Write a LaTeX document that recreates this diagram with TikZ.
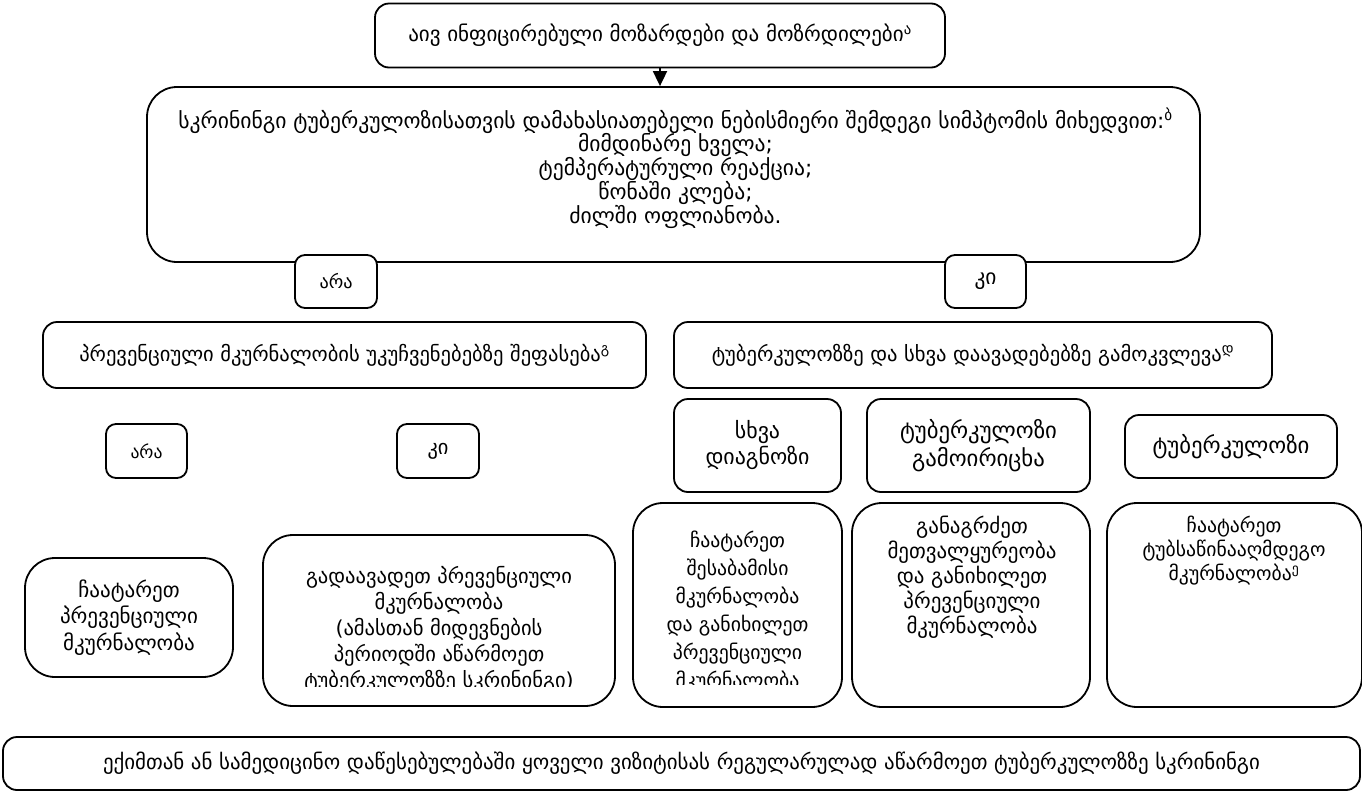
\documentclass[tikz,border=0pt]{standalone}
\usepackage{fontspec}
\setmainfont{DejaVu Sans}
\usetikzlibrary{arrows.meta}
\newcommand\geosup[1]{\textsuperscript{#1}}
\newlength\geow
% #1 target width of the sample line (pt = px), #2 baselineskip, #3 sample line
\newcommand\geofit[3]{\settowidth\geow{\fontsize{10}{10}\selectfont #3}%
  \pgfmathsetmacro\geofsz{10*#1/\geow}\fontsize{\geofsz}{#2}\selectfont}
\begin{document}
\begin{tikzpicture}[x=1pt,y=-1pt,
  box/.style={draw, line width=1.8pt, rounded corners=10pt, fill=white, inner sep=0pt, align=center},
  midbox/.style={box, rounded corners=14pt},
  bigbox/.style={box, rounded corners=30pt},
  txt/.style={align=center, inner sep=0pt},
  link/.style={line width=1.8pt, -{Triangle[length=15pt,width=14pt]}}
]
\useasboundingbox (0,0) rectangle (1362,793);

% top
\node[midbox, minimum width=570pt, minimum height=64pt,
  font={\geofit{504}{25}{აივ ინფიცირებული მოზარდები და მოზრდილები\geosup{ა}}}] (top) at (660,35.5)
  {აივ ინფიცირებული მოზარდები და მოზრდილები\geosup{ა}};

% symptoms
\node[bigbox, minimum width=1053pt, minimum height=175pt] (sym) at (673.5,174.5) {};
\node[txt, font={\geofit{995}{23.75}{სკრინინგი ტუბერკულოზისათვის დამახასიათებელი ნებისმიერი შემდეგი სიმპტომის მიხედვით:\geosup{ბ}}}] (symt) at (675.5,168)
 {სკრინინგი ტუბერკულოზისათვის დამახასიათებელი ნებისმიერი შემდეგი სიმპტომის მიხედვით:\geosup{ბ}\\
  მიმდინარე ხველა;\\ ტემპერატურული რეაქცია;\\ წონაში კლება;\\ ძილში ოფლიანობა.};
\draw[link] (top.south) -- (top.south |- sym.north);

\node[box, minimum width=82pt, minimum height=53pt, font={\geofit{33}{25}{არა}}] (no1) at (336,281.5) {არა};
\node[box, minimum width=81pt, minimum height=53pt, font={\geofit{22}{25}{კი}}] (yes1) at (985.5,281.5) {კი};

\node[midbox, minimum width=603pt, minimum height=66pt, font={\geofit{531}{25}{პრევენციული მკურნალობის უკუჩვენებებზე შეფასება\geosup{გ}}}] (eval) at (344.5,355)
  {პრევენციული მკურნალობის უკუჩვენებებზე შეფასება\geosup{გ}};
\node[midbox, minimum width=598pt, minimum height=66pt, font={\geofit{523}{25}{ტუბერკულოზზე და სხვა დაავადებებზე გამოკვლევა\geosup{დ}}}] (exam) at (973,355)
  {ტუბერკულოზზე და სხვა დაავადებებზე გამოკვლევა\geosup{დ}};

\node[box, minimum width=81pt, minimum height=54pt, font={\geofit{32}{25}{არა}}] (no2) at (146.5,451) {არა};
\node[box, minimum width=82pt, minimum height=54pt, font={\geofit{21}{25}{კი}}] (yes2) at (438,451) {კი};

\node[midbox, minimum width=167pt, minimum height=93pt, font={\geofit{104}{26}{დიაგნოზი}}] (other) at (757.5,445.5) {სხვა\\ დიაგნოზი};
\node[midbox, minimum width=223pt, minimum height=93pt, font={\geofit{157}{28}{ტუბერკულოზი}}] (excl) at (978.5,445.5) {ტუბერკულოზი\\ გამოირიცხა};
\node[midbox, minimum width=212pt, minimum height=63pt, font={\geofit{157}{25}{ტუბერკულოზი}}] (tb) at (1231,446.5) {ტუბერკულოზი};

% outcome boxes
\node[bigbox, minimum width=208pt, minimum height=119pt, font={\geofit{138}{26.5}{პრევენციული}}] (doprev) at (129,617.5)
  {ჩაატარეთ\\ პრევენციული\\ მკურნალობა};

\node[bigbox, minimum width=352pt, minimum height=171pt] (defer) at (439,620.5) {};
\begin{scope}
  \clip (263,535) rectangle (615,686);
  \node[txt, font={\geofit{266}{26}{გადაავადეთ პრევენციული}}] (defert) at (439,629) {გადაავადეთ პრევენციული\\ მკურნალობა\\ (ამასთან მიდევნების\\ პერიოდში აწარმოეთ\\ ტუბერკულოზზე სკრინინგი)};
\end{scope}

\node[bigbox, minimum width=209pt, minimum height=204pt] (treat) at (737.5,605) {};
\begin{scope}
  \clip (633,503) rectangle (842,684);
  \node[txt, font={\geofit{142}{28}{და განიხილეთ}}] (treatt) at (737.5,612) {ჩაატარეთ\\ შესაბამისი\\ მკურნალობა\\ და განიხილეთ\\ პრევენციული\\ მკურნალობა};
\end{scope}

\node[bigbox, minimum width=238pt, minimum height=204pt] (cont) at (971,605) {};
\node[txt, font={\geofit{169}{25}{მეთვალყურეობა}}] (contt) at (972,577.5) {განაგრძეთ\\ მეთვალყურეობა\\ და განიხილეთ\\ პრევენციული\\ მკურნალობა};

\node[bigbox, minimum width=255pt, minimum height=204pt] (tbtreat) at (1234.5,605) {};
\node[txt, font={\geofit{183}{24}{ტუბსაწინააღმდეგო}}] (tbtreatt) at (1234,551) {ჩაატარეთ\\ ტუბსაწინააღმდეგო\\ მკურნალობა\geosup{ე}};

\node[midbox, minimum width=1357pt, minimum height=53pt, font={\geofit{1157}{25}{ექიმთან ან სამედიცინო დაწესებულებაში ყოველი ვიზიტისას რეგულარულად აწარმოეთ ტუბერკულოზზე სკრინინგი}}] (screen) at (681.5,763.5)
  {ექიმთან ან სამედიცინო დაწესებულებაში ყოველი ვიზიტისას რეგულარულად აწარმოეთ ტუბერკულოზზე სკრინინგი};
\end{tikzpicture}
\end{document}
